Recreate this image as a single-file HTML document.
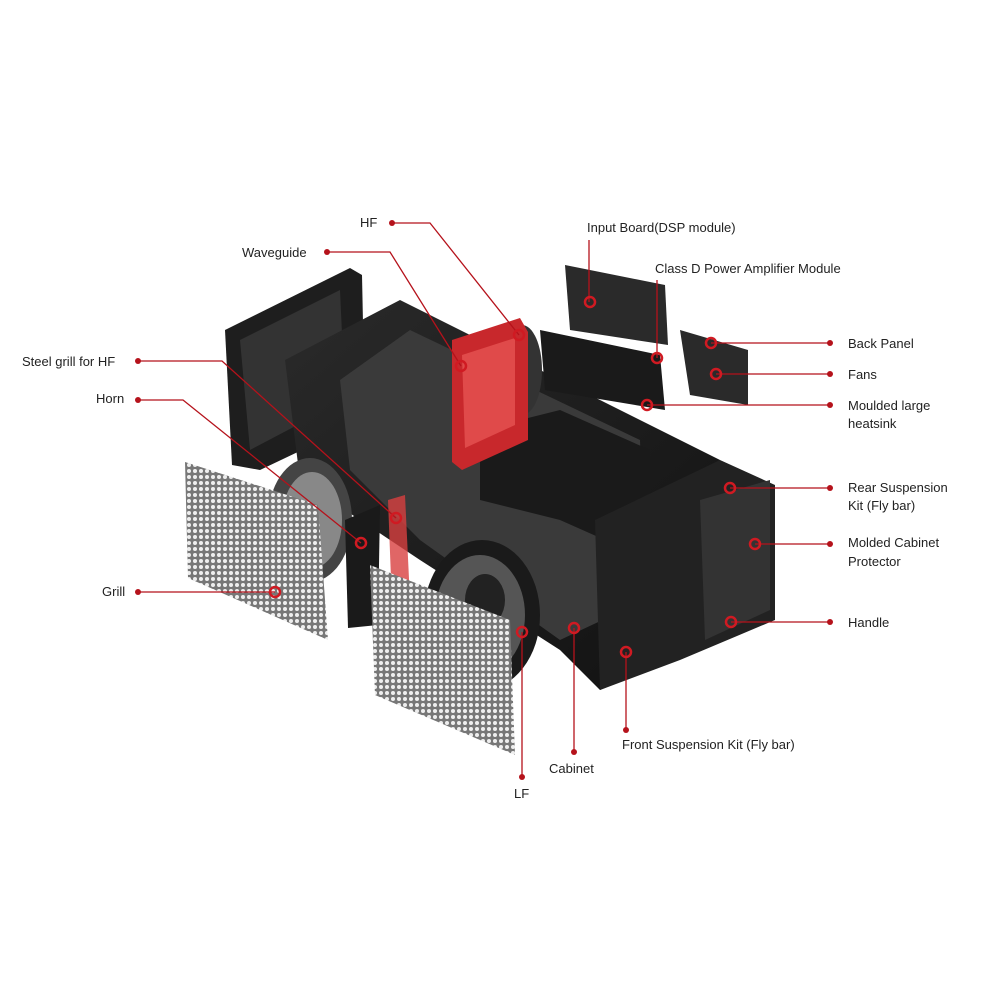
<!DOCTYPE html>
<html><head><meta charset="utf-8"><style>
html,body{margin:0;padding:0;background:#fff}
svg{display:block}
text{font-family:"Liberation Sans",sans-serif;font-size:13px;fill:#222}
</style></head><body>
<svg width="1000" height="1000" viewBox="0 0 1000 1000" xmlns="http://www.w3.org/2000/svg">
<defs>
<pattern id="hex" width="6" height="6" patternUnits="userSpaceOnUse">
<rect width="6" height="6" fill="#777"/><circle cx="3" cy="3" r="2" fill="#eee"/>
</pattern>
<linearGradient id="cab" x1="0" y1="0" x2="1" y2="1"><stop offset="0" stop-color="#2a2a2a"/><stop offset="1" stop-color="#111"/></linearGradient>
</defs>
<polygon points="225,330 350,268 362,275 365,420 260,470 232,465" fill="#1e1e1e"/>
<polygon points="240,340 340,290 345,400 250,450" fill="#333"/>
<polygon points="285,360 400,300 720,460 722,640 600,690 560,650 420,560 300,480" fill="url(#cab)"/>
<polygon points="340,380 410,330 640,440 645,600 560,640 420,540 350,470" fill="#3a3a3a"/>
<polygon points="480,430 560,410 650,450 650,560 560,520 480,500" fill="#1a1a1a"/>
<polygon points="595,520 720,460 775,485 775,620 680,660 600,690" fill="#222"/>
<polygon points="700,500 770,480 770,610 705,640" fill="#333"/>
<polygon points="565,265 665,285 668,345 570,330" fill="#2a2a2a"/>
<polygon points="540,330 660,355 665,410 545,390" fill="#1a1a1a"/>
<polygon points="680,330 748,350 748,405 690,395" fill="#2a2a2a"/>
<ellipse cx="310" cy="520" rx="42" ry="62" fill="#444"/>
<ellipse cx="312" cy="520" rx="30" ry="48" fill="#888"/>
<polygon points="345,520 380,505 378,625 348,628" fill="#1a1a1a"/>
<ellipse cx="522" cy="370" rx="20" ry="45" fill="#333"/>
<polygon points="452,340 520,318 528,332 528,440 462,470 452,462" fill="#c8282c"/>
<polygon points="462,355 515,338 515,425 465,448" fill="#e04a4a"/>
<polygon points="388,500 405,495 410,600 392,605" fill="#d84040" opacity="0.8"/>
<ellipse cx="482" cy="615" rx="58" ry="75" fill="#1a1a1a"/>
<ellipse cx="480" cy="615" rx="45" ry="60" fill="#555"/>
<ellipse cx="485" cy="600" rx="20" ry="26" fill="#222"/>
<polygon points="185,462 318,505 328,640 188,578" fill="url(#hex)"/>
<polygon points="370,565 510,620 515,755 375,695" fill="url(#hex)"/>
<g stroke="#b5121b" stroke-width="1.3" fill="none">
<polyline points="392,223 430,223 519,335"/>
<polyline points="327,252 390,252 461,366"/>
<polyline points="138,361 222,361 396,518"/>
<polyline points="138,400 183,400 361,543"/>
<polyline points="138,592 275,592"/>
<polyline points="522,777 522,632"/>
<polyline points="574,752 574,628"/>
<polyline points="626,730 626,652"/>
<polyline points="589,240 589,302"/>
<polyline points="657,280 657,358"/>
<polyline points="830,343 711,343"/>
<polyline points="830,374 716,374"/>
<polyline points="830,405 647,405"/>
<polyline points="830,488 730,488"/>
<polyline points="830,544 755,544"/>
<polyline points="830,622 731,622"/>
</g>
<g fill="#b5121b">
<circle cx="392" cy="223" r="3"/><circle cx="327" cy="252" r="3"/><circle cx="138" cy="361" r="3"/>
<circle cx="138" cy="400" r="3"/><circle cx="138" cy="592" r="3"/><circle cx="522" cy="777" r="3"/>
<circle cx="574" cy="752" r="3"/><circle cx="626" cy="730" r="3"/><circle cx="830" cy="343" r="3"/>
<circle cx="830" cy="374" r="3"/><circle cx="830" cy="405" r="3"/><circle cx="830" cy="488" r="3"/>
<circle cx="830" cy="544" r="3"/><circle cx="830" cy="622" r="3"/>
</g>
<g stroke="#d01a22" stroke-width="2.5" fill="none">
<circle cx="519" cy="335" r="5"/><circle cx="461" cy="366" r="5"/><circle cx="396" cy="518" r="5"/>
<circle cx="361" cy="543" r="5"/><circle cx="275" cy="592" r="5"/><circle cx="522" cy="632" r="5"/>
<circle cx="574" cy="628" r="5"/><circle cx="626" cy="652" r="5"/><circle cx="590" cy="302" r="5"/>
<circle cx="657" cy="358" r="5"/><circle cx="711" cy="343" r="5"/><circle cx="716" cy="374" r="5"/>
<circle cx="647" cy="405" r="5"/><circle cx="730" cy="488" r="5"/><circle cx="755" cy="544" r="5"/>
<circle cx="731" cy="622" r="5"/>
</g>
<text x="360" y="227">HF</text>
<text x="242" y="257">Waveguide</text>
<text x="22" y="366">Steel grill for HF</text>
<text x="96" y="403">Horn</text>
<text x="102" y="596">Grill</text>
<text x="514" y="798">LF</text>
<text x="549" y="773">Cabinet</text>
<text x="622" y="749">Front Suspension Kit (Fly bar)</text>
<text x="587" y="232">Input Board(DSP module)</text>
<text x="655" y="273">Class D Power Amplifier Module</text>
<text x="848" y="348">Back Panel</text>
<text x="848" y="379">Fans</text>
<text x="848" y="410">Moulded large</text>
<text x="848" y="428">heatsink</text>
<text x="848" y="492">Rear Suspension</text>
<text x="848" y="510">Kit (Fly bar)</text>
<text x="848" y="547">Molded Cabinet</text>
<text x="848" y="566">Protector</text>
<text x="848" y="627">Handle</text>
</svg>
</body></html>
